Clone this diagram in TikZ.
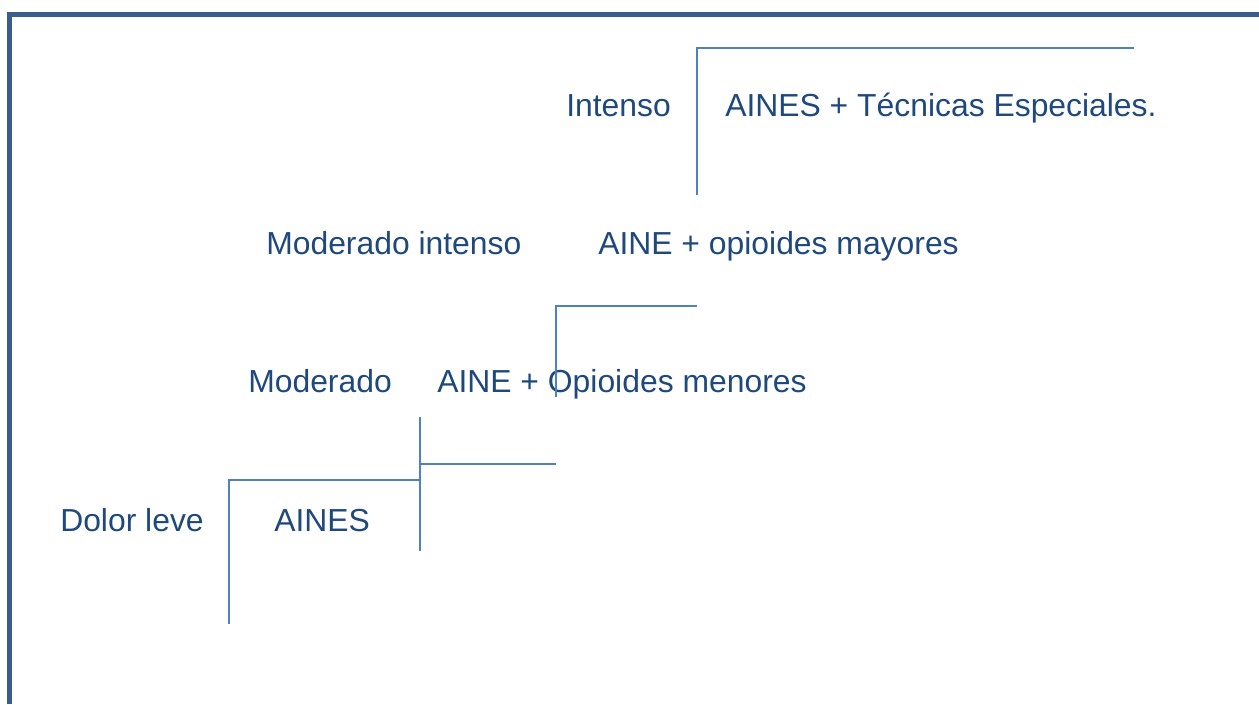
\documentclass[tikz,border=0pt]{standalone}
\usepackage{fontspec}
\setmainfont{Liberation Sans}
\usetikzlibrary{positioning}
\definecolor{painText}{HTML}{1F497D}
\definecolor{painLine}{HTML}{4F81BD}
\definecolor{painFrame}{HTML}{3A5E8C}
\tikzset{
  pain label/.style={
    anchor=base west, inner sep=0pt,
    font=\fontsize{23.9}{28}\selectfont, text=painText,
  },
  step line/.style={
    draw=painLine, line width=1.4pt,
  },
  frame line/.style={
    draw=painFrame, line width=4pt,
  },
}

\begin{document}
\begin{tikzpicture}[x=0.75pt,y=-0.75pt]
\useasboundingbox (0,0) rectangle (1259,704);

% --- FRAME ---
\coordinate (frameBL) at (9.5,704);
\coordinate (frameTL) at (9.5,14.5);
\coordinate (frameTR) at (1259,14.5);
\draw[frame line] (frameBL) -- (frameTL) -- (frameTR);

% --- LABELS ---
\node[pain label] (intenso)  at (566,116) {Intenso};
\node[pain label] (tecnicas) at (725,116) {AINES + Técnicas Especiales.};
\node[pain label] (modint)   at (266,254) {Moderado intenso};
\node[pain label] (mayores)  at (598,254) {AINE + opioides mayores};
\node[pain label] (moderado) at (248,392) {Moderado};
\node[pain label] (menores)  at (437,392) {AINE + Opioides menores};
\node[pain label] (leve)     at (60,531)  {Dolor leve};
\node[pain label] (aines)    at (274,531) {AINES};

% --- STEP CORNERS ---
\coordinate (s1b) at (229,624);
\coordinate (s1c) at (229,480);
\coordinate (s1r) at (420,480);
\coordinate (s2t) at (420,417);
\coordinate (s2b) at (420,551);
\coordinate (s2m) at (420,464);
\coordinate (s2r) at (556,464);
\coordinate (s3b) at (556,397);
\coordinate (s3c) at (556,306);
\coordinate (s3r) at (697,306);
\coordinate (s4b) at (697,195);
\coordinate (s4c) at (697,48);
\coordinate (s4r) at (1134,48);

% --- STEPS ---
\draw[step line] (s1b) -- (s1c) -- (s1r);
\draw[step line] (s2t) -- (s2b);
\draw[step line] (s2m) -- (s2r);
\draw[step line] (s3b) -- (s3c) -- (s3r);
\draw[step line] (s4b) -- (s4c) -- (s4r);

\end{tikzpicture}
\end{document}
